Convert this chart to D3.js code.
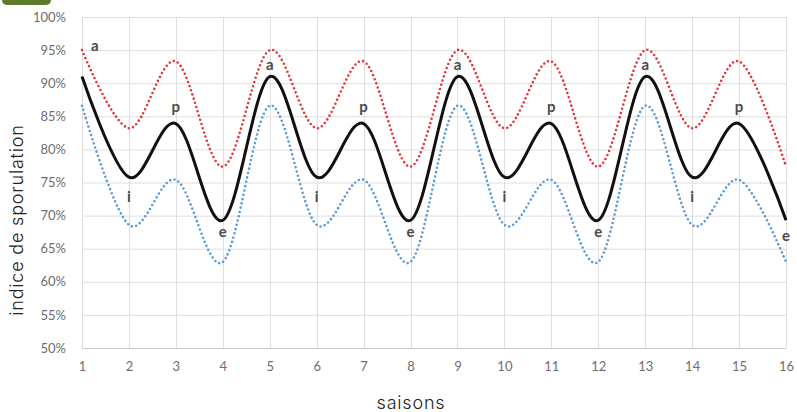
<!DOCTYPE html>
<html><head><meta charset="utf-8">
<script src="https://cdn.jsdelivr.net/npm/d3@7"></script>
<style>
html,body{margin:0;padding:0;background:#fff;}
svg{display:block;}
</style></head>
<body>
<svg id="chart" width="797" height="412"></svg>
<script>
// ---- data ----
const seasons = [1,2,3,4,5,6,7,8,9,10,11,12,13,14,15,16];
const moyenne = [91,75.8,83.9,69.3, 91,75.8,83.9,69.3, 91,75.8,83.9,69.3, 91,75.8,83.9,69.3];
const haute   = [95,83.2,93.3,77.4, 95,83.2,93.3,77.4, 95,83.2,93.3,77.4, 95,83.2,93.3,77.4];
const basse   = [86.6,68.6,75.4,63, 86.6,68.6,75.4,63, 86.6,68.6,75.4,63, 86.6,68.6,75.4,63];
const letters = ["a","i","p","e","a","i","p","e","a","i","p","e","a","i","p","e"];
const yTicks  = [50,55,60,65,70,75,80,85,90,95,100];
const xLabel = "saisons";
const yLabel = "indice de sporulation";

// ---- layout ----
const svg = d3.select("#chart");
const L = 82, R = 786, T = 17, B = 348;
const x = d3.scaleLinear().domain([1,16]).range([L,R]);
const y = d3.scaleLinear().domain([50,100]).range([B,T]);

// decorative green tab top-left
svg.append("path")
  .attr("d","M2,-8 H51 V0 Q51,5 45,5 H8 Q2,5 2,0 Z")
  .attr("fill","#5c7b2d");

// gridlines
const grid = svg.append("g");
grid.selectAll("line.h").data(yTicks).join("line")
  .attr("x1",L).attr("x2",R)
  .attr("y1",d=>y(d)+0.5).attr("y2",d=>y(d)+0.5)
  .attr("stroke",d=>d===50?"#c8c8c8":"#dedede").attr("stroke-width",1);
grid.selectAll("line.v").data(seasons).join("line")
  .attr("x1",d=>Math.round(x(d))+0.5).attr("x2",d=>Math.round(x(d))+0.5)
  .attr("y1",T).attr("y2",B)
  .attr("stroke","#dedede").attr("stroke-width",1);

// axes labels via d3 axes
const yAxis = d3.axisLeft(y).tickValues(yTicks).tickFormat(d=>d+"%").tickSize(0).tickPadding(16);
const gy = svg.append("g").attr("transform",`translate(${L},0)`).call(yAxis);
gy.select(".domain").remove();
gy.selectAll("text").attr("font-family","Lato, 'Open Sans', sans-serif").attr("font-size",13).attr("fill","#6e6e6e");

const xAxis = d3.axisBottom(x).tickValues(seasons).tickFormat(d3.format("d")).tickSize(0).tickPadding(14);
const gx = svg.append("g").attr("transform",`translate(0,${B})`).call(xAxis);
gx.select(".domain").remove();
gx.selectAll("text").attr("font-family","Lato, 'Open Sans', sans-serif").attr("font-size",13).attr("fill","#6e6e6e");

// lines
const line = d3.line().x((d,i)=>x(seasons[i])).y(d=>y(d)).curve(d3.curveCardinal.tension(0));
svg.append("path").attr("d",line(haute)).attr("fill","none")
  .attr("stroke","#e2373b").attr("stroke-width",2.6)
  .attr("stroke-linecap","round").attr("stroke-dasharray","0 4.4");
svg.append("path").attr("d",line(basse)).attr("fill","none")
  .attr("stroke","#5b9bd5").attr("stroke-width",2.6)
  .attr("stroke-linecap","round").attr("stroke-dasharray","0 4.4");
svg.append("path").attr("d",line(moyenne)).attr("fill","none")
  .attr("stroke","#111").attr("stroke-width",3);

// season letters
const off = {a:-7, p:-12, i:25, e:17};
svg.append("g").selectAll("text").data(letters).join("text")
  .attr("x",(d,i)=> i===0 ? x(seasons[i])+9 : x(seasons[i]))
  .attr("y",(d,i)=> i===0 ? y(haute[i])+1 : y(moyenne[i])+off[d] + (i===15?4:0))
  .attr("text-anchor",(d,i)=> i===0 ? "start" : "middle")
  .attr("font-family","Lato, 'Open Sans', sans-serif")
  .attr("font-weight","bold").attr("font-size",15).attr("fill","#4a4a4a")
  .text(d=>d);

// axis titles
svg.append("text").attr("x",411).attr("y",409).attr("text-anchor","middle")
  .attr("font-family","Inter, 'Noto Sans', sans-serif").attr("font-weight",300)
  .attr("font-size",18).attr("letter-spacing","0.8px").attr("fill","#222").text(xLabel);
svg.append("text").attr("transform","translate(23,220) rotate(-90)").attr("text-anchor","middle")
  .attr("font-family","Inter, 'Noto Sans', sans-serif").attr("font-weight",300)
  .attr("font-size",18).attr("letter-spacing","0.8px").attr("fill","#222").text(yLabel);
</script>
</body></html>
